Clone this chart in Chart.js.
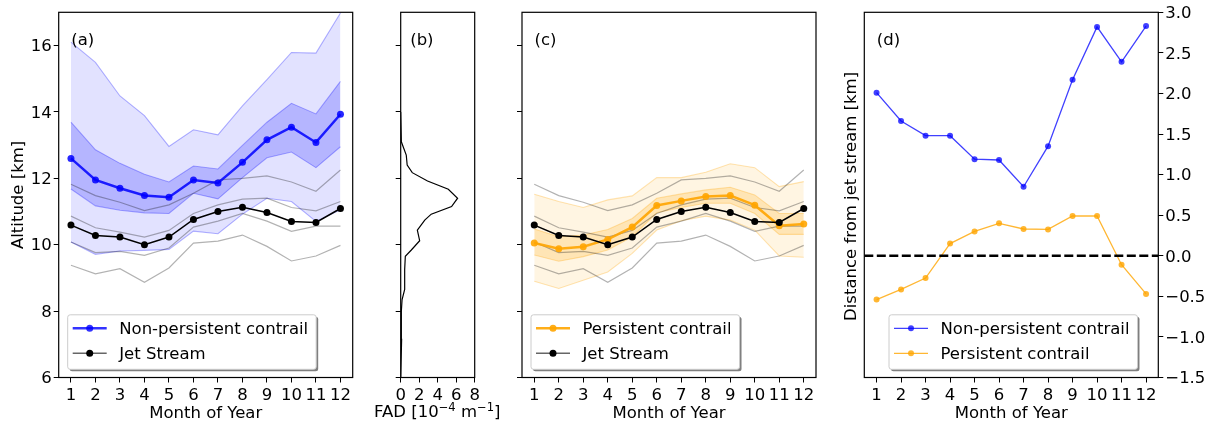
<!DOCTYPE html>
<html>
<head>
<meta charset="UTF-8">
<title>Contrail altitude and jet stream</title>
<script src="https://cdn.jsdelivr.net/npm/chart.js"></script>
<style>
  html, body { margin: 0; padding: 0; background: #fff; }
  #wrap { position: relative; width: 1210px; height: 424px; overflow: hidden; }
  canvas { position: absolute; top: 0; }
</style>
</head>
<body>
<div id="wrap">
  <canvas id="chartA" style="left:0"></canvas>
  <canvas id="chartB" style="left:365px"></canvas>
  <canvas id="chartC" style="left:490px"></canvas>
  <canvas id="chartD" style="left:830px"></canvas>
</div>
<script>
const months = [1, 2, 3, 4, 5, 6, 7, 8, 9, 10, 11, 12];
const altitudeTicks = [6, 8, 10, 12, 14, 16];
const fadTicks = [0, 2, 4, 6, 8];
const distanceTicks = [-1.5, -1, -0.5, 0, 0.5, 1, 1.5, 2, 2.5, 3];

// jet stream altitude, mean and four percentile lines
const jetMean = [10.59, 10.28, 10.23, 10.0, 10.23, 10.76, 11.0, 11.13, 10.97, 10.70, 10.67, 11.09];
const jetP95 = [11.82, 11.48, 11.28, 11.03, 11.2, 11.55, 11.95, 12.0, 12.07, 11.89, 11.61, 12.25];
const jetP75 = [10.86, 10.51, 10.38, 10.23, 10.43, 10.94, 11.2, 11.37, 11.4, 11.12, 11.02, 11.3];
const jetP25 = [10.08, 9.76, 9.8, 9.68, 9.9, 10.53, 10.71, 10.94, 10.71, 10.4, 10.56, 10.56];
const jetP5 = [9.38, 9.12, 9.28, 8.87, 9.3, 10.05, 10.11, 10.29, 9.95, 9.51, 9.66, 9.98];

// non-persistent contrails
const npMean = [12.60, 11.95, 11.70, 11.48, 11.43, 11.95, 11.86, 12.48, 13.16, 13.54, 13.08, 13.93];
const npP95 = [16.10, 15.49, 14.48, 13.89, 12.96, 13.46, 13.31, 14.18, 14.97, 15.79, 15.77, 16.98];
const npP75 = [13.69, 12.86, 12.45, 12.12, 11.89, 12.37, 12.28, 12.99, 13.69, 14.26, 13.94, 14.92];
const npP25 = [11.68, 11.17, 11.04, 10.96, 10.94, 11.55, 11.38, 12.02, 12.62, 12.79, 12.32, 12.95];
const npP5 = [10.08, 9.71, 9.81, 9.83, 9.86, 10.41, 10.33, 10.92, 11.4, 11.3, 10.7, 11.05];

// persistent contrails
const pMean = [10.05, 9.88, 9.94, 10.16, 10.53, 11.18, 11.32, 11.45, 11.48, 11.19, 10.57, 10.62];
const pP95 = [11.52, 11.30, 11.12, 11.35, 11.47, 12.02, 12.02, 12.18, 12.44, 12.32, 11.75, 11.90];
const pP75 = [10.47, 10.24, 10.29, 10.46, 10.79, 11.40, 11.53, 11.65, 11.73, 11.50, 10.94, 10.94];
const pP25 = [9.69, 9.50, 9.64, 9.84, 10.24, 10.96, 11.12, 11.25, 11.25, 10.94, 10.31, 10.31];
const pP5 = [8.90, 8.68, 8.93, 9.18, 9.74, 10.44, 10.72, 10.86, 10.74, 10.44, 9.66, 9.62];

// fraction of distance by altitude
const fadAltitude = [6, 7.15, 8, 8.35, 8.65, 9.25, 9.65, 9.84, 10.12, 10.44, 10.74, 10.92, 11.15, 11.4, 11.67, 11.92, 12.17, 12.4, 12.7, 13.1, 14];
const fadValues = [0, 0.1, 0.07, 0.15, 0.43, 0.43, 0.5, 1.15, 2.05, 1.8, 2.6, 3.3, 5.5, 6.15, 5.15, 2.9, 1.25, 0.7, 0.6, 0.07, 0];

// distance from the jet stream
const npDistance = [2.01, 1.66, 1.48, 1.48, 1.19, 1.18, 0.85, 1.35, 2.17, 2.82, 2.39, 2.83];
const pDistance = [-0.54, -0.415, -0.275, 0.15, 0.30, 0.40, 0.33, 0.325, 0.49, 0.49, -0.11, -0.47];

const BLUE = '0, 0, 255';
const ORANGE = '255, 165, 0';
const FONT = 'DejaVu Sans';
const FONT_PX = 16.5;
Chart.defaults.font.family = FONT;
Chart.defaults.font.size = FONT_PX;
Chart.defaults.color = '#000';
Chart.defaults.animation = false;
Chart.defaults.responsive = false;
Chart.defaults.devicePixelRatio = 1;

// frame, panel letter and matplotlib style legend
const panelPlugin = {
  id: 'panel',
  afterDraw(chart, args, opts) {
    const { ctx, chartArea: a } = chart;
    ctx.save();
    ctx.strokeStyle = '#000';
    ctx.lineWidth = 1.2;
    ctx.strokeRect(a.left, a.top, a.right - a.left, a.bottom - a.top);
    ctx.fillStyle = '#000';
    ctx.font = FONT_PX + 'px "' + FONT + '"';
    ctx.textBaseline = 'middle';
    ctx.textAlign = 'left';
    ctx.fillText(opts.letter, a.left + (opts.letterX || 12.5), a.top + 28.5);
    if (opts.legend) {
      const items = opts.legend;
      const x = a.left + opts.legendX, y = a.top + 302.5;
      let tw = 0;
      items.forEach(it => { tw = Math.max(tw, ctx.measureText(it.label).width); });
      const w = 51.5 + tw + 8, h = 54.5;
      ctx.save();
      ctx.shadowColor = 'rgba(0,0,0,0.5)';
      ctx.shadowOffsetX = 2;
      ctx.shadowOffsetY = 2;
      ctx.fillStyle = '#fff';
      ctx.beginPath();
      ctx.roundRect(x, y, w, h, 2.5);
      ctx.fill();
      ctx.restore();
      ctx.strokeStyle = '#ccc';
      ctx.lineWidth = 1;
      ctx.beginPath();
      ctx.roundRect(x, y, w, h, 2.5);
      ctx.stroke();
      items.forEach((it, i) => {
        const ry = y + 13.5 + i * 25;
        ctx.strokeStyle = it.color;
        ctx.lineWidth = it.width;
        ctx.beginPath();
        ctx.moveTo(x + 5, ry);
        ctx.lineTo(x + 39, ry);
        ctx.stroke();
        ctx.fillStyle = it.marker;
        ctx.beginPath();
        ctx.arc(x + 22, ry, it.radius, 0, Math.PI * 2);
        ctx.fill();
        ctx.fillStyle = '#000';
        ctx.fillText(it.label, x + 51.5, ry + 1);
      });
    }
    ctx.restore();
  }
};

function fixedTicks(values) {
  return scale => { scale.ticks = values.map(v => ({ value: v })); };
}

function makeXScale(title, values, min, max) {
  return {
    type: 'linear', min: min, max: max,
    afterBuildTicks: fixedTicks(values),
    afterFit: scale => { scale.height = 46.5; scale.paddingLeft = 0; scale.paddingRight = 0; },
    grid: { drawOnChartArea: false, tickLength: 5, color: '#000' },
    border: { display: false },
    ticks: { autoSkip: false, maxRotation: 0, padding: 3, callback: v => String(v) },
    title: title ? { display: true, text: title, padding: { top: 3, bottom: 0 } } : { display: false }
  };
}

function makeYScale(opts) {
  return {
    type: 'linear', min: opts.min, max: opts.max,
    position: opts.position || 'left',
    afterBuildTicks: fixedTicks(opts.ticks),
    afterFit: scale => { scale.width = opts.width; },
    grid: { drawOnChartArea: false, tickLength: 5, color: '#000' },
    border: { display: false },
    ticks: {
      padding: 2,
      labelOffset: 1.5,
      callback: opts.label || (() => '')
    },
    title: opts.title ? { display: true, text: opts.title, padding: { top: 9, bottom: 0 } } : { display: false }
  };
}

function xy(values) {
  return values.map((v, i) => ({ x: months[i], y: v }));
}

function lineSet(label, values, color, width, radius) {
  return {
    label: label, data: xy(values), borderColor: color, backgroundColor: color,
    borderWidth: width, pointRadius: radius, pointHoverRadius: radius, pointBorderWidth: 0,
    tension: 0, fill: false
  };
}

function bandSets(rgb, upper, lower, tag, alpha) {
  return [
    { label: tag + ' upper', data: xy(upper), borderColor: 'rgba(' + rgb + ',0.3)', borderWidth: 1.1,
      pointRadius: 0, tension: 0, fill: '+1', backgroundColor: 'rgba(' + rgb + ',' + alpha + ')' },
    { label: tag + ' lower', data: xy(lower), borderColor: 'rgba(' + rgb + ',0.3)', borderWidth: 1.1,
      pointRadius: 0, tension: 0, fill: false }
  ];
}

function jetSets() {
  return [
    lineSet('Jet Stream', jetMean, '#000', 1.5, 3.5),
    lineSet('Jet 95', jetP95, 'rgba(0,0,0,0.3)', 1.2, 0),
    lineSet('Jet 75', jetP75, 'rgba(0,0,0,0.3)', 1.2, 0),
    lineSet('Jet 25', jetP25, 'rgba(0,0,0,0.3)', 1.2, 0),
    lineSet('Jet 5', jetP5, 'rgba(0,0,0,0.3)', 1.2, 0)
  ];
}

function setSize(id, w) {
  const c = document.getElementById(id);
  c.width = w; c.height = 424;
  c.style.width = w + 'px'; c.style.height = '424px';
  return c;
}

const altitudeLabel = v => String(v);
const plainOptions = { legend: { display: false }, tooltip: { enabled: false } };

// (a) non-persistent
new Chart(setSize('chartA', 365), {
  type: 'line',
  data: { datasets: [
    lineSet('Non-persistent contrail', npMean, 'rgba(0,0,255,0.85)', 2.5, 3.5),
    ...jetSets(),
    ...bandSets(BLUE, npP75, npP25, 'IQR', 0.2),
    ...bandSets(BLUE, npP95, npP5, 'Range', 0.114)
  ] },
  options: {
    layout: { padding: { top: 12.3, right: 12.3, left: 0, bottom: 0 } },
    scales: {
      x: makeXScale('Month of Year', months, 0.5, 12.5),
      y: makeYScale({ min: 6, max: 17, ticks: altitudeTicks, width: 58.7, label: altitudeLabel, title: 'Altitude [km]' })
    },
    plugins: { ...plainOptions, panel: { letter: '(a)', legendX: 9, legend: [
      { label: 'Non-persistent contrail', color: 'rgba(0,0,255,0.8)', marker: 'rgba(0,0,255,0.8)', width: 2.5, radius: 3.5 },
      { label: 'Jet Stream', color: 'rgba(0,0,0,0.6)', marker: '#000', width: 1.5, radius: 3.5 }
    ] } }
  },
  plugins: [panelPlugin]
});

// (b) FAD profile
new Chart(setSize('chartB', 145), {
  type: 'line',
  data: { datasets: [{
    label: 'FAD',
    data: fadAltitude.map((a, i) => ({ x: fadValues[i], y: a })),
    borderColor: '#000', borderWidth: 1.2, pointRadius: 0, tension: 0, fill: false
  }] },
  options: {
    layout: { padding: { top: 12.3, right: 35.3, left: 0, bottom: 0 } },
    scales: {
      x: makeXScale('', fadTicks, 0, 8),
      y: makeYScale({ min: 6, max: 17, ticks: altitudeTicks, width: 35.7 })
    },
    plugins: { ...plainOptions, panel: { letter: '(b)', letterX: 9.5 } }
  },
  plugins: [panelPlugin, {
    // axis title is wider than the panel and has superscripts
    id: 'fadTitle',
    afterDraw(chart) {
      const { ctx } = chart;
      const parts = [['FAD [10', 0], ['\u22124', 1], [' m', 0], ['\u22121', 1], [']', 0]];
      ctx.save();
      ctx.textBaseline = 'alphabetic';
      ctx.textAlign = 'left';
      ctx.fillStyle = '#000';
      let x = 9;
      parts.forEach(p => {
        ctx.font = (p[1] ? FONT_PX * 0.7 : FONT_PX) + 'px "' + FONT + '"';
        ctx.fillText(p[0], x, p[1] ? 411 : 417);
        x += ctx.measureText(p[0]).width;
      });
      ctx.restore();
    }
  }]
});

// (c) persistent
new Chart(setSize('chartC', 340), {
  type: 'line',
  data: { datasets: [
    ...jetSets().slice(0, 1),
    lineSet('Persistent contrail', pMean, 'rgba(255,165,0,0.9)', 2.5, 3.5),
    ...jetSets().slice(1),
    ...bandSets(ORANGE, pP75, pP25, 'IQR', 0.2),
    ...bandSets(ORANGE, pP95, pP5, 'Range', 0.114)
  ] },
  options: {
    layout: { padding: { top: 12.3, right: 14, left: 0, bottom: 0 } },
    scales: {
      x: makeXScale('Month of Year', months, 0.5, 12.5),
      y: makeYScale({ min: 6, max: 17, ticks: altitudeTicks, width: 32 })
    },
    plugins: { ...plainOptions, panel: { letter: '(c)', legendX: 9, legend: [
      { label: 'Persistent contrail', color: 'rgba(255,165,0,0.9)', marker: 'rgba(255,165,0,0.9)', width: 2.5, radius: 3.5 },
      { label: 'Jet Stream', color: 'rgba(0,0,0,0.6)', marker: '#000', width: 1.5, radius: 3.5 }
    ] } }
  },
  plugins: [panelPlugin]
});

// (d) distance from jet
new Chart(setSize('chartD', 380), {
  type: 'line',
  data: { datasets: [
    { label: 'Zero', data: [{ x: 0.5, y: 0 }, { x: 12.5, y: 0 }], borderColor: '#000', borderWidth: 2.5,
      borderDash: [9, 3.5], pointRadius: 0, tension: 0, fill: false },
    lineSet('Non-persistent contrail', npDistance, 'rgba(0,0,255,0.75)', 1.3, 3),
    lineSet('Persistent contrail', pDistance, 'rgba(255,165,0,0.8)', 1.3, 3)
  ] },
  options: {
    layout: { padding: { top: 12.3, right: 0, left: 34.3, bottom: 0 } },
    scales: {
      x: makeXScale('Month of Year', months, 0.5, 12.5),
      y: makeYScale({
        min: -1.5, max: 3, ticks: distanceTicks, width: 51.7, position: 'right',
        label: v => v.toFixed(1).replace('-', '\u2212')
      })
    },
    plugins: { ...plainOptions, panel: { letter: '(d)', legendX: 24.7, legend: [
      { label: 'Non-persistent contrail', color: 'rgba(0,0,255,0.75)', marker: 'rgba(0,0,255,0.75)', width: 1.3, radius: 3 },
      { label: 'Persistent contrail', color: 'rgba(255,165,0,0.8)', marker: 'rgba(255,165,0,0.8)', width: 1.3, radius: 3 }
    ] } }
  },
  plugins: [panelPlugin, {
    // y title sits on the left here while the ticks stay on the right
    id: 'leftTitle',
    afterDraw(chart) {
      const { ctx, chartArea: a } = chart;
      ctx.save();
      ctx.translate(22, (a.top + a.bottom) / 2 + 1.5);
      ctx.rotate(-Math.PI / 2);
      ctx.textAlign = 'center';
      ctx.textBaseline = 'middle';
      ctx.fillStyle = '#000';
      ctx.font = FONT_PX + 'px "' + FONT + '"';
      ctx.fillText('Distance from jet stream [km]', 0, 0);
      ctx.restore();
    }
  }]
});
</script>
</body>
</html>
